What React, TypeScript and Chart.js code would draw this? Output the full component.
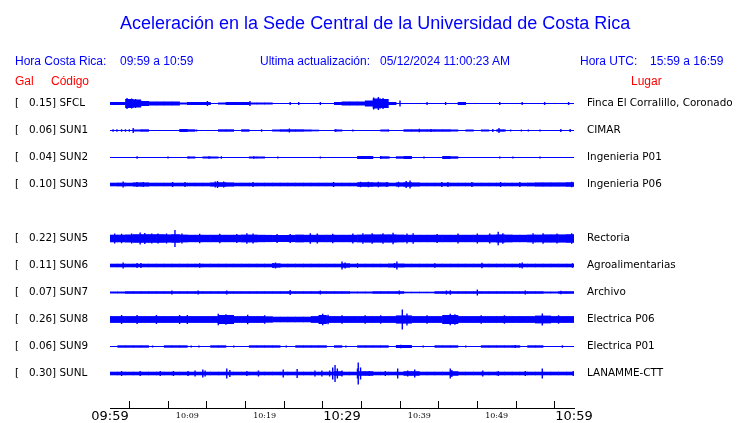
import React, { useEffect, useRef } from 'react';
import { Chart, registerables } from 'chart.js';

Chart.register(...registerables);

// ---------- texts ----------
const TITLE = 'Aceleración en la Sede Central de la Universidad de Costa Rica';
const HEADER_BLUE = [
  { text: 'Hora Costa Rica:', x: 15 },
  { text: '09:59 a 10:59', x: 120 },
  { text: 'Ultima actualización:', x: 260 },
  { text: '05/12/2024 11:00:23 AM', x: 380 },
  { text: 'Hora UTC:', x: 580 },
  { text: '15:59 a 16:59', x: 650 },
];
const HEADER_RED = [
  { text: 'Gal', x: 15 },
  { text: 'Código', x: 51 },
  { text: 'Lugar', x: 631 },
];

// ---------- stations ----------
const ROWS = [0, 1, 2, 3, 5, 6, 7, 8, 9, 10];
const CODES = ['SFCL', 'SUN1', 'SUN2', 'SUN3', 'SUN5', 'SUN6', 'SUN7', 'SUN8', 'SUN9', 'SUNL'];
const GAL = ['0.15', '0.06', '0.04', '0.10', '0.22', '0.11', '0.07', '0.26', '0.06', '0.30'];
const PLACES = [
  'Finca El Corralillo, Coronado', 'CIMAR', 'Ingenieria P01', 'Ingenieria P06',
  'Rectoria', 'Agroalimentarias', 'Archivo', 'Electrica P06', 'Electrica P01', 'LANAMME-CTT',
];

// ---------- time axis (minutes after 09:59) ----------
const TIME_TICKS = [0, 5, 10, 15, 20, 25, 30, 35, 40, 45, 50, 55, 60];
const TIME_LABELS = ['09:59', '', '10:09', '', '10:19', '', '10:29', '', '10:39', '', '10:49', '', '10:59'];
const MAJOR_TICKS = [0, 30, 60];

// ---------- per-minute envelope half-amplitudes (1 row = 27 units) ----------
const ENV_SFCL = [1.5,1.5,4.5,4,2.5,2,2,2,2,1, 1.5,1.5,1.5,0.5,1,1.5,1.5,1.5,1,1, 1,0.5,0.5,0.5,0.5,0.5,0.5,0.5,0.5,1.5, 2,2,2,3,5,4.5,1.5,0.5,0.5,0.5, 0.5,0.5,0.5,0.5,0.5,1.5,0.5,0.5,0.5,0.5, 0.5,0.5,0.5,0.5,0.5,0.5,0.5,0.5,0.5,0.5];
const ENV_SUN1 = [0.5,0.5,0.5,1,1.2,0.5,0.5,0.5,0.5,1.5, 1.2,0.5,0.5,0.5,1.2,1.2,0.5,1.2,0.5,0.5, 0.5,1,1.2,1.2,1.2,1,0.8,0.5,0.5,1, 0.5,0.5,0.5,0.5,0.5,1,0.5,0.5,1.2,1.2, 1.2,1.2,1.2,1.2,1,0.5,1,0.5,1,0.5, 1.2,0.5,0.5,0.5,0.5,0.5,0.5,0.5,0.5,0.5];
const ENV_SUN2 = [0.5,0.5,0.5,0.5,0.5,0.5,0.5,0.5,0.5,0.5, 1,0.5,1,1,0.5,0.5,0.5,0.5,1,1, 0.5,0.5,0.5,0.5,0.5,0.5,0.5,0.5,0.5,0.5, 0.5,0.5,1.5,1.5,0.5,1.2,0.5,1.2,1.5,0.5, 0.5,0.5,0.5,1.5,1.2,0.5,0.5,0.5,0.5,0.5, 0.5,0.5,0.5,0.5,0.5,0.5,0.5,0.5,0.5,0.5];
const ENV_SUN3 = [1.8,1.9,1.8,2.1,2.1,1.8,1.8,1.8,1.8,1.8, 1.8,1.8,1.8,2.1,2.3,2.1,1.8,1.8,1.8,1.8, 1.8,1.8,1.8,1.8,1.8,1.8,1.8,1.8,1.8,1.8, 1.8,1.8,2.3,2.3,2.1,2.1,1.8,2.1,2.3,2.1, 1.8,1.8,1.8,1.8,1.8,1.8,1.8,1.8,1.8,1.8, 1.8,1.8,1.8,1.8,1.9,2.1,2.1,2.1,2.1,2.3];
const ENV_SUN5 = [3.8,3.8,4,4.3,4.3,4.3,4.3,4.1,4.3,3.9, 3.7,3.7,3.7,3.7,3.7,3.7,3.7,3.9,3.9,3.7, 3.6,3.5,3.5,3.6,3.9,3.7,3.7,3.7,3.7,3.7, 3.7,3.7,3.9,4.1,4.1,4.1,4.1,3.9,3.7,3.7, 3.7,3.7,3.7,3.7,3.7,3.7,3.7,3.7,3.7,3.9, 4.1,3.9,3.7,3.7,3.9,3.9,4.1,4.1,4.1,4.3];
const ENV_SUN6 = [1.8,1.8,1.8,1.8,1.8,1.8,1.8,1.8,1.8,1.8, 1.8,1.8,1.8,1.8,1.8,1.8,1.8,1.8,1.8,1.8, 1.8,2.2,1.8,1.8,1.8,1.8,1.8,1.8,1.8,1.8, 2.2,1.8,1.8,1.8,1.8,1.8,2,2,1.8,1.8, 1.8,1.8,1.8,1.8,1.8,1.8,1.8,1.8,1.8,1.8, 1.8,1.8,1.8,1.8,1.8,1.8,1.8,1.8,1.8,1.8];
const ENV_SUN7 = [1,1,1.3,1.3,1.3,1.3,1.3,1.3,1.3,1.3, 1.3,1.3,1.3,1.3,1.3,1.3,1.3,1.3,1.3,1.3, 1.3,1.3,1.3,1.3,1.3,1.3,1.3,1.3,1.3,1.3, 1.3,1,1,1,1.3,1.3,1.3,1.3,0.8,0.8, 0.8,0.8,1.3,1.3,1.3,1.3,1.3,1.3,1.3,1.3, 1.3,1.3,1.3,1.3,1.3,1.3,1,1,1.3,1.3];
const ENV_SUN8 = [3.4,3.4,3.4,3.4,3.4,3.4,3.4,3.4,3.4,3.4, 3.4,3.4,3.4,3.4,4.5,4.5,3.4,3.4,3.4,3.4, 3.2,2.8,2.8,2.8,2.8,2.8,3.4,4.5,3.4,3.4, 3.4,3.4,3.4,3.4,3.4,3.4,3.4,4.1,4.1,3.4, 3.4,3.4,3.4,4.5,4.5,3.4,3.4,3.4,3.4,3.4, 3.4,3.4,3.4,3.4,3.4,3.9,3.9,3.4,3.4,3.4];
const ENV_SUN9 = [0.5,1.2,1.2,1.2,1.2,0.5,0.5,1.2,1.2,1.2, 0.5,0.5,0.5,1.2,1.2,0.5,0.5,0.5,1.2,1.2, 1.2,1.2,0.5,0.5,1.2,1.2,1.2,1.2,0.5,1.2, 0.5,0.5,1.2,1.2,1.2,1.2,0.5,1.5,1.5,0.5, 0.5,0.5,1.2,1.2,1.2,0.5,0.5,0.5,1.2,1.2, 1.2,1.2,1.2,0.5,1.2,1.2,0.5,0.5,0.5,0.5];
const ENV_SUNL = [1.8,1.8,1.8,1.8,1.8,1.8,1.8,1.8,1.8,1.8, 1.8,1.8,1.8,1.8,1.8,1.8,1.8,1.8,1.8,1.8, 1.8,1.8,1.8,1.8,1.8,1.8,1.8,1.8,1.8,2.3, 1.8,1.8,2.3,2.3,1.8,1.8,1.8,1.8,2.3,2.3, 1.8,1.8,1.8,1.8,2.3,1.8,1.8,1.8,1.8,1.8, 1.8,1.8,1.8,1.8,1.8,1.8,1.8,1.8,1.8,1.8];

// ---------- isolated peaks: [minute, half-amplitude] ----------
const SPK_SFCL = [[2.2,5.5],[2.8,5],[3.3,4.5],[12.6,2.5],[18.1,2.5],[23.3,1.5],[24.4,1.5],[27.2,1.5],[34.1,6],[34.7,6.5],[35.3,5.5],[37.5,3],[41,1.5],[43.4,1.5],[50.4,1.5],[53.3,1.5],[56.2,1.5],[59.3,1.5]];
const SPK_SUN1 = [[0.4,1.2],[0.9,1.2],[1.5,1.2],[2.0,1.2],[2.5,1.2],[3,2.5],[11.2,1],[19.6,1.2],[23.2,2],[29.2,1.2],[31.4,1],[36,1],[40,1.8],[41.5,1.5],[49.5,1.5],[50.3,2.5],[51.1,1],[51.8,1],[53.2,1],[54.1,1],[55.6,1],[58.3,1.5],[59.5,1.5]];
const SPK_SUN2 = [[3.5,1.3],[7.5,1],[10.2,1],[12.8,1.3],[14.4,1.3],[18.6,1.3],[21.7,1],[27.2,1],[35,1.5],[36.1,1],[38.6,1.6],[40.6,1],[50.4,1],[52.1,1],[55.6,1]];
const SPK_SUN3 = [[1.7,3],[3.5,2.6],[4.3,2.6],[8.1,2.5],[9.7,2.5],[13.6,3],[13.9,3.5],[14.7,3],[18.5,2.5],[28.9,2.5],[32.4,2.8],[33.4,2.8],[34.7,2.8],[35.8,2.6],[37.3,2.8],[38.3,3.5],[38.8,4],[42.9,2.5],[43.7,2.5],[46.8,2.5],[50.5,2.6],[53,2.5],[59.7,2.8]];
const SPK_SUN5 = [[0.6,5],[1.5,4.8],[2.8,5],[3.9,6],[4.5,5.5],[5.4,5],[6.2,5],[7.3,5],[8.4,8.5],[9.3,5],[11.6,4.8],[14.2,4.8],[16.4,4.6],[17.7,5.3],[18.5,5],[21.6,4.6],[23.3,4.6],[25.9,5.3],[26.8,5],[28.8,4.8],[31.4,5],[32.7,5.3],[33.9,5.3],[35.3,5.3],[36.6,5.8],[38.4,5],[39.2,5.3],[42.3,4.6],[45,5],[47.5,5],[49.1,5],[50.2,6.7],[50.8,5.3],[54.7,5.3],[56,5.3],[57.8,5],[59.7,5.3]];
const SPK_SUN6 = [[1.7,3],[3.5,2.5],[4,2.5],[11.6,2.2],[21.1,2.5],[21.4,3],[30,4],[30.4,3],[32,2.2],[36.8,2.5],[37.1,4],[42,2.2],[48.1,2.8],[53,2.2],[53.3,3],[59.8,2.2]];
const SPK_SUN7 = [[8,2],[11.4,2],[15.1,2],[23.3,2.5],[27.2,2],[37.4,2],[43.5,2],[44,2.2],[47.5,3],[53.7,2],[58.3,1.8]];
const SPK_SUN8 = [[1.5,4.5],[3.5,4.5],[6,4.5],[9,4.5],[10,4.5],[14,5.8],[15,5.3],[17.8,4.8],[20,4.3],[27.5,5.8],[28.2,4.8],[30,4.3],[33,4.3],[35,4.3],[37.8,10],[38.4,6],[41,4.3],[44,5.8],[44.6,5.3],[48,4.3],[51,4.3],[55.9,6],[58,4.3]];
const SPK_SUN9 = [[5.5,1],[10.5,1],[11.5,1],[16,1],[22.8,1],[30.5,1],[37.6,1.8],[40.5,1],[46,1],[52.4,1.5],[58.5,1.2]];
const SPK_SUNL = [[1.5,2.5],[3.9,2.5],[6.5,2.5],[8.2,2.5],[10.1,2.5],[11,3],[12,4],[12.3,3],[15.1,5],[15.5,3.5],[17.7,2.5],[19.2,3],[22.4,4],[24.2,4.5],[26.5,3],[27.4,3],[28.4,3],[28.8,6],[29.1,8.5],[29.4,5],[30,3],[32.0,5],[32.1,11],[32.4,6],[33.5,2.5],[35.6,2.5],[37.2,5],[38.5,3],[39.4,4],[44,5],[44.2,3.5],[48.2,3],[50.2,2.5],[53.7,2.5],[55.9,5],[59.9,2.5]];

const ENVELOPES = [ENV_SFCL, ENV_SUN1, ENV_SUN2, ENV_SUN3, ENV_SUN5, ENV_SUN6, ENV_SUN7, ENV_SUN8, ENV_SUN9, ENV_SUNL];
const PEAKS = [SPK_SFCL, SPK_SUN1, SPK_SUN2, SPK_SUN3, SPK_SUN5, SPK_SUN6, SPK_SUN7, SPK_SUN8, SPK_SUN9, SPK_SUNL];

const UNITS_PER_ROW = 27;
const BLUE = '#0000ff';

export default function App() {
  const canvasRef = useRef<HTMLCanvasElement | null>(null);

  useEffect(() => {
    const canvas = canvasRef.current;
    if (!canvas) return;

    const bodyData: any[] = [];
    const peakData: any[] = [];
    ROWS.forEach((row, s) => {
      ENVELOPES[s].forEach((a, m) => {
        bodyData.push({ x: m + 0.5, y: [row - a / UNITS_PER_ROW, row + a / UNITS_PER_ROW] });
      });
      PEAKS[s].forEach(([t, a]) => {
        peakData.push({ x: t, y: row - a / UNITS_PER_ROW });
        peakData.push({ x: t, y: row + a / UNITS_PER_ROW });
        peakData.push({ x: t, y: null });
      });
    });

    const leftLabels = GAL.map((g, i) => `[   ${g}] ${CODES[i]}`);
    const labelFont = { family: 'DejaVu Sans', size: 10.4 };

    const chart = new Chart(canvas, {
      type: 'bar',
      data: {
        datasets: [
          {
            type: 'bar',
            data: bodyData,
            backgroundColor: BLUE,
            borderWidth: 0,
            barPercentage: 1.08,
            categoryPercentage: 1,
            grouped: false,
            inflateAmount: 0,
          } as any,
          {
            type: 'line',
            data: peakData,
            borderColor: BLUE,
            borderWidth: 1.4,
            pointRadius: 0,
            spanGaps: false,
            tension: 0,
          } as any,
        ],
      },
      options: {
        animation: false,
        responsive: false,
        maintainAspectRatio: false,
        events: [],
        layout: { padding: { left: 15, top: 90, right: 0, bottom: 0 } },
        plugins: { legend: { display: false }, tooltip: { enabled: false } },
        scales: {
          x: {
            type: 'linear',
            min: 0,
            max: 60,
            offset: false,
            position: 'bottom',
            afterBuildTicks: (s: any) => { s.ticks = TIME_TICKS.map((v) => ({ value: v })); },
            afterFit: (s: any) => { s.height = 15; },
            grid: { drawOnChartArea: false, drawTicks: true, tickLength: -7, color: '#000', tickColor: '#000', lineWidth: 1 },
            border: { display: true, color: '#000', width: 1 },
            ticks: {
              autoSkip: false,
              maxRotation: 0,
              minRotation: 0,
              padding: 8,
              color: '#000',
              callback: (_v: any, i: number) => TIME_LABELS[i],
              font: (ctx: any) =>
                ctx.tick && MAJOR_TICKS.includes(ctx.tick.value)
                  ? { family: 'DejaVu Sans', size: 13, lineHeight: 1.2 }
                  : { family: 'DejaVu Serif', size: 8, lineHeight: 1.8 },
            },
          } as any,
          y: {
            type: 'linear',
            min: -0.5,
            max: 11.278,
            reverse: true,
            position: 'left',
            afterBuildTicks: (s: any) => { s.ticks = ROWS.map((v) => ({ value: v })); },
            afterFit: (s: any) => { s.width = 95; },
            grid: { display: false, drawTicks: false },
            border: { display: false },
            ticks: {
              crossAlign: 'far',
              padding: 0,
              color: '#000',
              font: labelFont,
              callback: (_v: any, i: number) => leftLabels[i],
            },
          } as any,
          yR: {
            type: 'linear',
            min: -0.5,
            max: 11.278,
            reverse: true,
            position: 'right',
            afterBuildTicks: (s: any) => { s.ticks = ROWS.map((v) => ({ value: v })); },
            afterFit: (s: any) => { s.width = 166; },
            grid: { display: true, drawOnChartArea: false, drawTicks: true, tickLength: 13, color: 'rgba(0,0,0,0)', tickColor: 'rgba(0,0,0,0)' },
            border: { display: false },
            ticks: {
              crossAlign: 'near',
              padding: 0,
              color: '#000',
              font: labelFont,
              callback: (_v: any, i: number) => PLACES[i],
            },
          } as any,
        },
      },
    });

    return () => chart.destroy();
  }, []);

  const base: React.CSSProperties = {
    position: 'absolute',
    whiteSpace: 'pre',
    fontFamily: '"Liberation Sans", Arial, sans-serif',
  };

  return (
    <div style={{ position: 'fixed', left: 0, top: 0, width: 740, height: 423, background: '#fff' }}>
      <canvas ref={canvasRef} width={740} height={423} style={{ position: 'absolute', left: 0, top: 0 }} />
      <div style={{ ...base, left: 120, top: 12, fontSize: 18, lineHeight: '22px', color: BLUE }}>{TITLE}</div>
      {HEADER_BLUE.map((h) => (
        <div key={h.text} style={{ ...base, left: h.x, top: 54, fontSize: 12, lineHeight: '14px', color: BLUE }}>{h.text}</div>
      ))}
      {HEADER_RED.map((h) => (
        <div key={h.text} style={{ ...base, left: h.x, top: 74, fontSize: 12, lineHeight: '14px', color: '#ff0000' }}>{h.text}</div>
      ))}
    </div>
  );
}
